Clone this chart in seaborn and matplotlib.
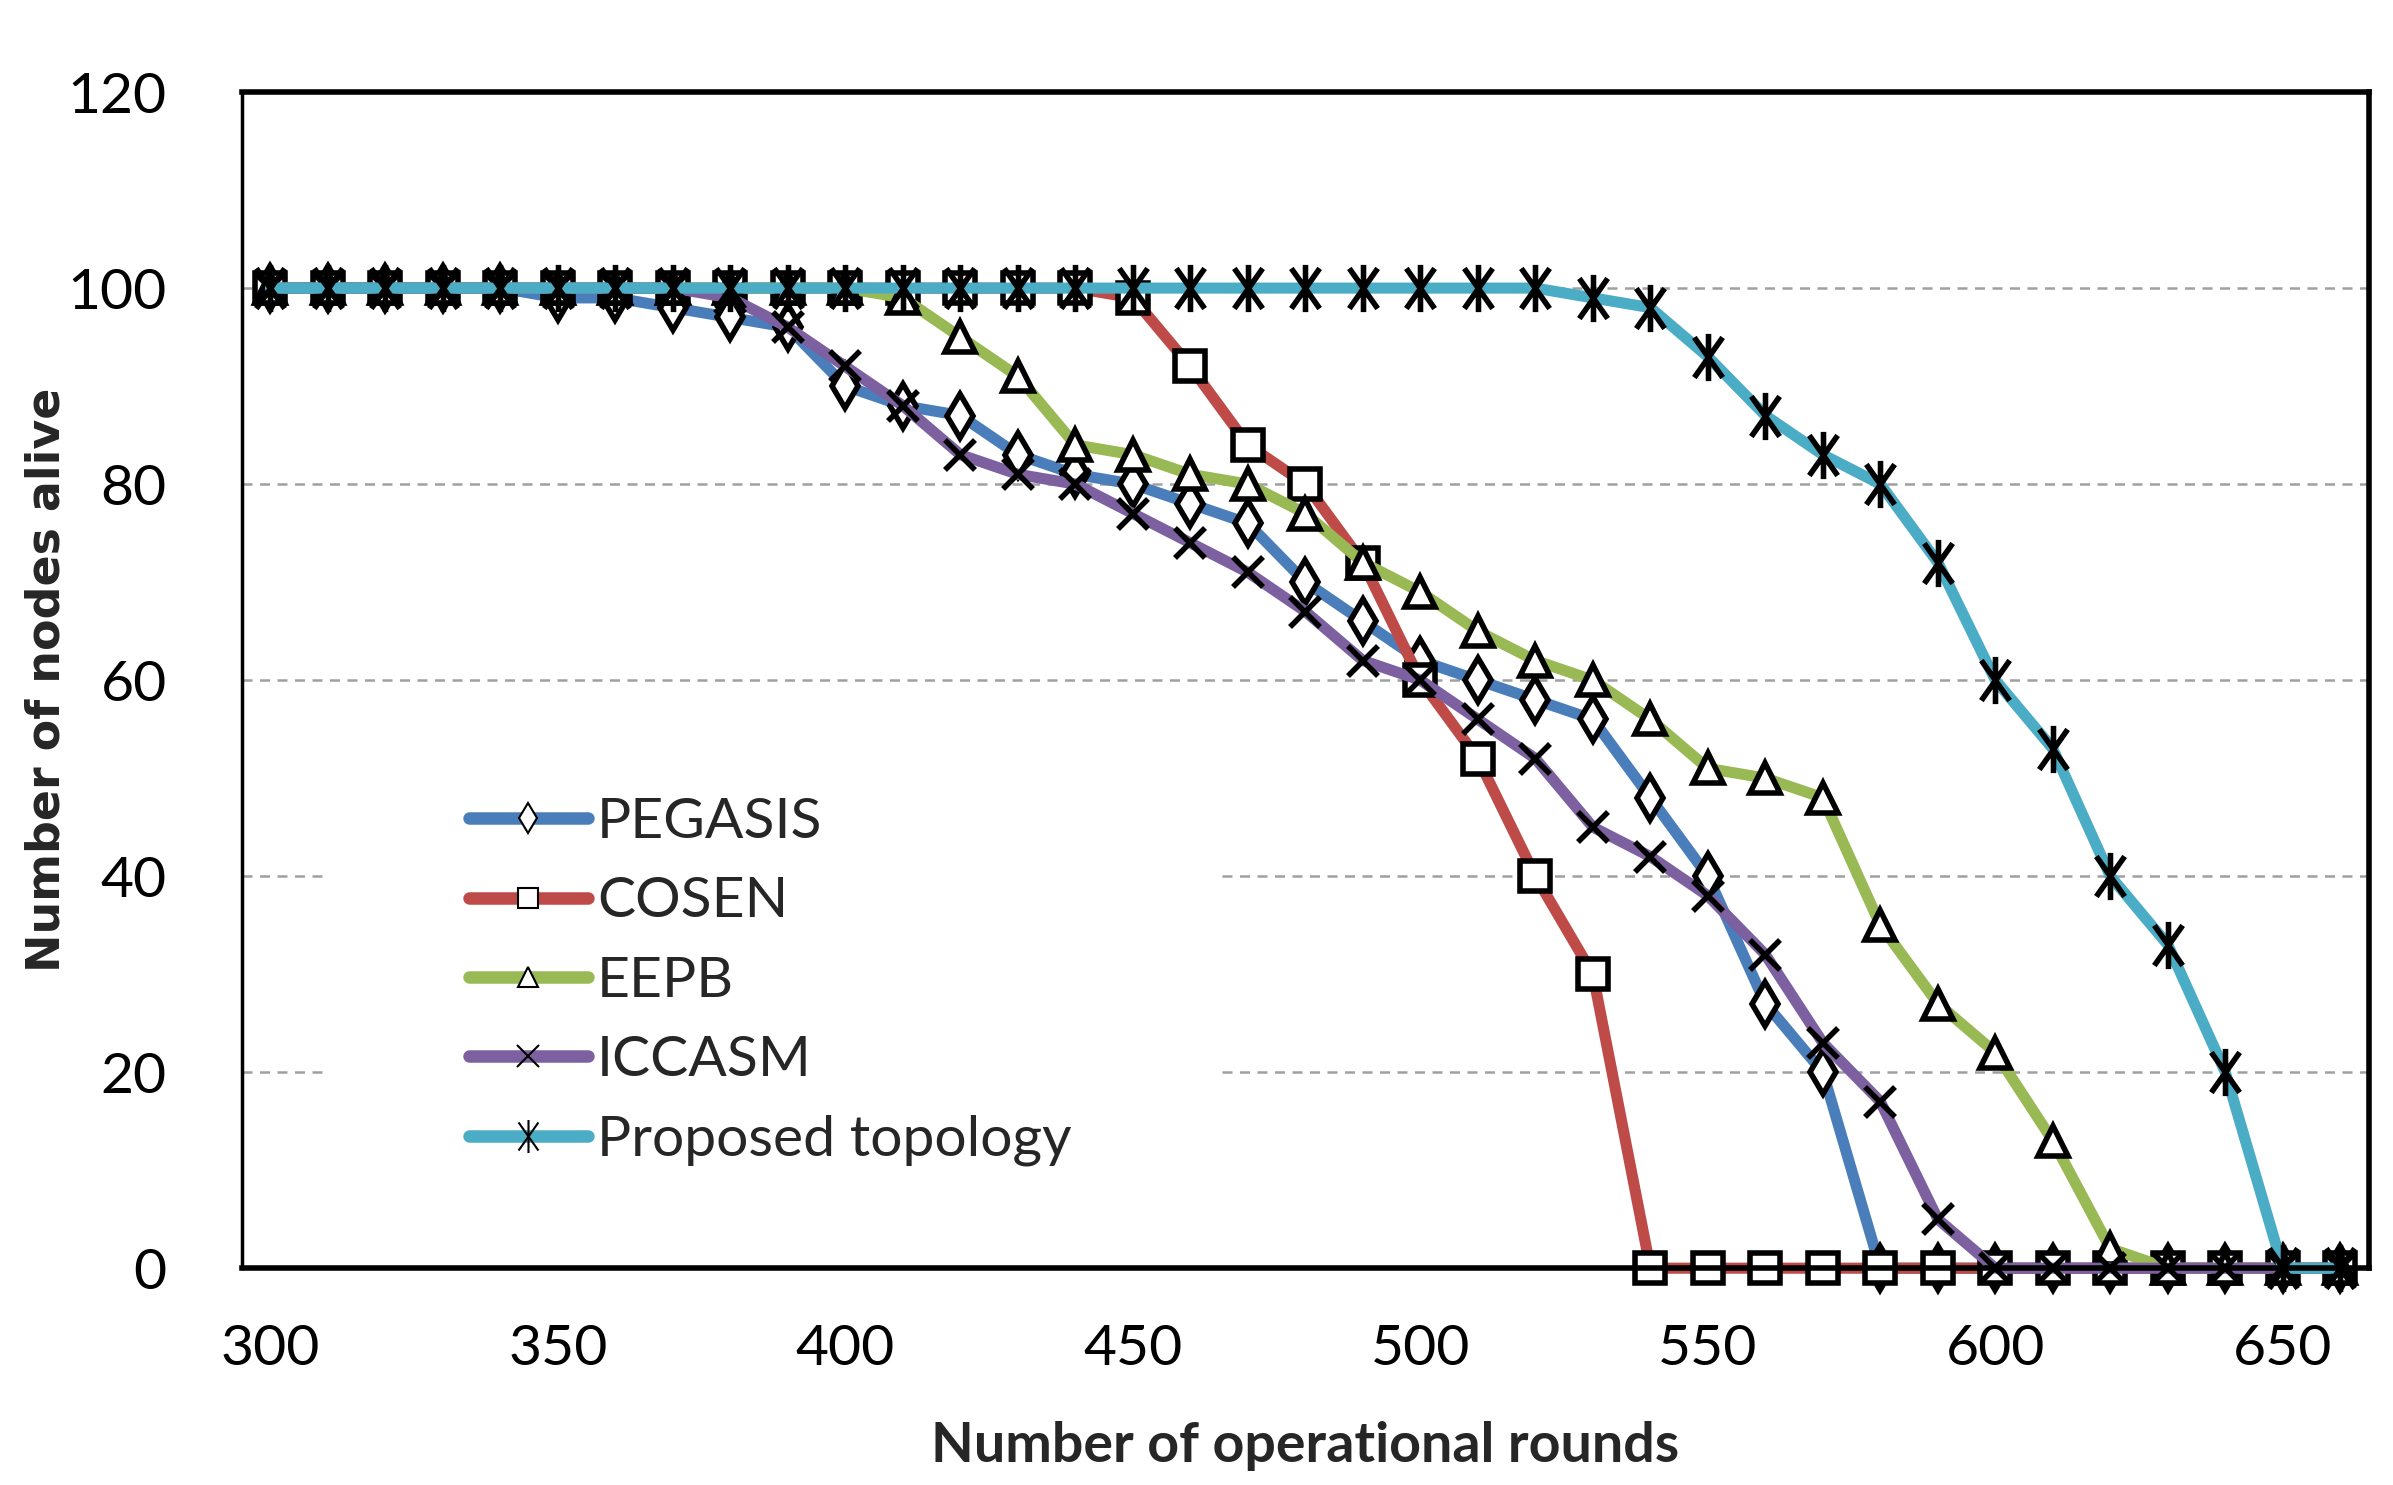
import numpy as np
import pandas as pd
import matplotlib
matplotlib.use("Agg")
import matplotlib.pyplot as plt
from matplotlib.lines import Line2D
from matplotlib.patches import Rectangle
from matplotlib.path import Path
import seaborn as sns

rounds = list(range(300, 670, 10))
series_names = ["PEGASIS", "COSEN", "EEPB", "ICCASM", "Proposed topology"]

pegasis = [100, 100, 100, 100, 100, 99, 99, 98, 97, 96, 90, 88, 87, 83, 81, 80, 78, 76, 70,
           66, 62, 60, 58, 56, 48, 40, 27, 20, 0, 0, 0, 0, 0, 0, 0, 0, 0]
cosen = [100, 100, 100, 100, 100, 100, 100, 100, 100, 100, 100, 100, 100, 100, 100, 99, 92, 84, 80,
         72, 60, 52, 40, 30, 0, 0, 0, 0, 0, 0, 0, 0, 0, 0, 0, 0, 0]
eepb = [100, 100, 100, 100, 100, 100, 100, 100, 100, 100, 100, 99, 95, 91, 84, 83, 81, 80, 77,
        72, 69, 65, 62, 60, 56, 51, 50, 48, 35, 27, 22, 13, 2, 0, 0, 0, 0]
iccasm = [100, 100, 100, 100, 100, 100, 100, 100, 99, 96, 92, 88, 83, 81, 80, 77, 74, 71, 67,
          62, 60, 56, 52, 45, 42, 38, 32, 23, 17, 5, 0, 0, 0, 0, 0, 0, 0]
proposed = [100, 100, 100, 100, 100, 100, 100, 100, 100, 100, 100, 100, 100, 100, 100, 100, 100, 100, 100,
            100, 100, 100, 100, 99, 98, 93, 87, 83, 80, 72, 60, 53, 40, 33, 20, 0, 0]

y_ticks = [0, 20, 40, 60, 80, 100, 120]
x_tick_labels = [300, 350, 400, 450, 500, 550, 600, 650]

# Excel-style star marker: an X with a vertical bar
star_path = Path(
    [(0, -1), (0, 1), (-0.6, -0.85), (0.6, 0.85), (-0.6, 0.85), (0.6, -0.85)],
    [Path.MOVETO, Path.LINETO, Path.MOVETO, Path.LINETO, Path.MOVETO, Path.LINETO],
)

colors = ["#4A7EBB", "#BE4B48", "#98B954", "#7D60A0", "#4BACC6"]
markers = ["d", "s", "^", "x", star_path]
msizes = [22, 21, 21, 22, 34]

df = pd.concat([
    pd.DataFrame({"Rounds": rounds, "Alive": vals, "Series": name})
    for name, vals in zip(series_names, [pegasis, cosen, eepb, iccasm, proposed])
], ignore_index=True)

sns.set_theme(style="white")
plt.rcParams["font.family"] = ["Lato", "DejaVu Sans"]

fig = plt.figure(figsize=(23.93, 14.85), dpi=100)
ax = fig.add_axes([0.101, 0.146, 0.889, 0.792])
ax.set_axisbelow(True)

for name, col, mk, ms in zip(series_names, colors, markers, msizes):
    sub = df[df["Series"] == name]
    sns.lineplot(data=sub, x="Rounds", y="Alive", ax=ax, color=col,
                 marker=mk, markersize=ms, markeredgecolor="black",
                 markerfacecolor="white", legend=False)

for ln in ax.lines:
    ln.set_clip_on(False)
    ln.set_linewidth(8.0)
    ln.set_markeredgewidth(4.0)
    ln.set_solid_joinstyle("round")

ax.set_xlim(295, 665)
ax.set_ylim(0, 120)
ax.set_yticks(y_ticks)
ax.set_yticklabels([str(v) for v in y_ticks])
ax.set_xticks(x_tick_labels)
ax.set_xticklabels([str(v) for v in x_tick_labels])
ax.set_xticks(np.arange(295, 666, 10), minor=True)

ax.yaxis.grid(True, color="#A0A0A0", linestyle=(0, (4, 3)), linewidth=1.8)
ax.xaxis.grid(False)

ax.tick_params(axis="x", which="major", length=0, pad=40, labelsize=41, colors="black")
ax.tick_params(axis="x", which="minor", length=16, width=2, color="#808080", direction="out")
ax.tick_params(axis="y", which="major", length=10, width=2, color="#A0A0A0", direction="out",
               pad=44, labelsize=41, labelcolor="black")

for s in ["top", "right", "bottom"]:
    ax.spines[s].set_linewidth(4)
    ax.spines[s].set_color("black")
ax.spines["left"].set_linewidth(2.5)
ax.spines["left"].set_color("black")
ax.spines["left"].set_linestyle((0, (5, 1)))

ax.set_ylabel("Number of nodes alive", fontsize=33, fontweight="bold", family="DejaVu Sans")
ax.yaxis.set_label_coords(-0.081, 0.5)
ax.set_xlabel("Number of operational rounds", fontsize=40, fontweight="bold")
ax.xaxis.set_label_coords(0.5, -0.13)

# white legend background covering grid
ax.add_patch(Rectangle((0.038, 0.05), 0.42, 0.40, transform=ax.transAxes,
                       facecolor="white", edgecolor="none", zorder=1))

handles = [Line2D([0], [0], color=c, linewidth=9, marker=m, markersize=ms * 0.7,
                  markeredgecolor="black", markerfacecolor="white", markeredgewidth=1.5)
           for c, m, ms in zip(colors, markers, msizes)]
leg = ax.legend(handles, series_names, loc="upper left", bbox_to_anchor=(0.096, 0.42),
                frameon=False, fontsize=41, handlelength=2.1, handletextpad=0.15,
                labelspacing=0.5, borderaxespad=0)

fig.savefig("out.png", dpi=100, facecolor="white")
